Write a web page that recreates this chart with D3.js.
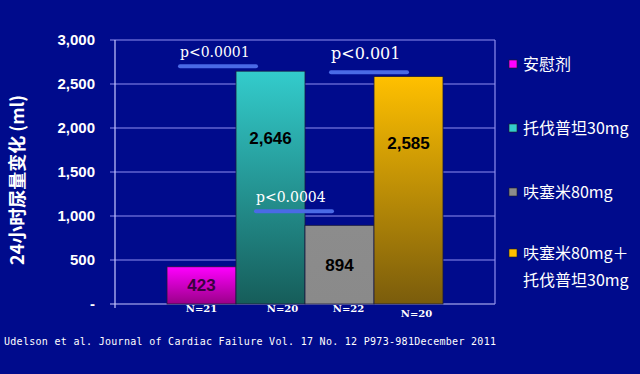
<!DOCTYPE html>
<html>
<head>
<meta charset="utf-8">
<script src="https://cdn.jsdelivr.net/npm/d3@7"></script>
<style>
  html, body { margin: 0; padding: 0; background: #000b8c; }
  svg { display: block; }
</style>
</head>
<body>
<svg id="chart" width="640" height="374"></svg>
<script>
const groups = ['安慰剂', '托伐普坦30mg', '呋塞米80mg', '呋塞米80mg+托伐普坦30mg']
const values = [423, 2646, 894, 2585]
const nLabels = ['N=21', 'N=20', 'N=22', 'N=20']
const yTicks = [0, 500, 1000, 1500, 2000, 2500, 3000]
const pLabels = ['p<0.0001', 'p<0.001', 'p<0.0004']
// bar each p-value starts over, and its height in data units
const pStart = [0, 2, 1]
const pLevels = [2703, 2634, 1055]

const barTop = ['#ff00ff', '#33cccc', '#8c8c8c', '#ffc000']
const barBottom = ['#9a0088', '#165d5a', '#8a8a8a', '#7a5c0c']
const legendLines = [['安慰剂'], ['托伐普坦30mg'], ['呋塞米80mg'], ['呋塞米80mg＋', '托伐普坦30mg']]

const svg = d3.select('#chart')
const plot = { left: 115, right: 495, top: 40, bottom: 304 }

const y = d3.scaleLinear().domain([0, 3000]).range([plot.bottom, plot.top])
const x = d3.scaleBand().domain(d3.range(groups.length)).range([167, 443]).padding(0)

svg.append('rect').attr('width', 640).attr('height', 374).attr('fill', '#000b8c')

let defs = svg.append('defs')
groups.forEach((g, i) => {
  let grad = defs.append('linearGradient')
    .attr('id', 'grad' + i)
    .attr('x1', 0).attr('y1', 0).attr('x2', 0).attr('y2', 1)
  grad.append('stop').attr('offset', '0%').attr('stop-color', barTop[i])
  grad.append('stop').attr('offset', '100%').attr('stop-color', barBottom[i])
})

// grid + frame
svg.append('g')
  .selectAll('line')
  .data(yTicks)
  .enter()
  .append('line')
  .attr('x1', 110).attr('x2', plot.right)
  .attr('y1', d => y(d)).attr('y2', d => y(d))
  .attr('stroke', d => d === 0 ? '#c8c8ff' : '#8f8fef')
  .attr('stroke-width', 1.2)

svg.append('line')
  .attr('x1', plot.left).attr('x2', plot.left)
  .attr('y1', plot.top).attr('y2', plot.bottom + 4)
  .attr('stroke', '#c8c8ff').attr('stroke-width', 1.2)
svg.append('line')
  .attr('x1', plot.right).attr('x2', plot.right)
  .attr('y1', plot.top).attr('y2', plot.bottom)
  .attr('stroke', '#8f8fef').attr('stroke-width', 1.2)

// y axis labels
let yAxis = svg.append('g')
  .attr('transform', `translate(${plot.left - 20},0)`)
  .call(d3.axisLeft(y).tickValues(yTicks).tickSize(0).tickPadding(0)
    .tickFormat(d => d === 0 ? '-' : d3.format(',')(d)))
yAxis.select('.domain').remove()
yAxis.selectAll('text')
  .attr('fill', '#ffffff')
  .attr('font-family', 'Liberation Sans, Arial, sans-serif')
  .attr('font-weight', 'bold')
  .attr('font-size', 15)

svg.append('text')
  .attr('transform', 'translate(24,180) rotate(-90)')
  .attr('text-anchor', 'middle')
  .attr('fill', '#ffffff')
  .attr('font-family', 'Noto Sans CJK SC, sans-serif')
  .attr('font-weight', 'bold')
  .attr('font-size', 18)
  .text('24小时尿量变化 (ml)')

// bars
svg.append('g')
  .selectAll('rect')
  .data(values)
  .enter()
  .append('rect')
  .attr('x', (d, i) => x(i))
  .attr('width', x.bandwidth())
  .attr('y', d => y(d))
  .attr('height', d => y(0) - y(d))
  .attr('fill', (d, i) => `url(#grad${i})`)
  .attr('stroke', '#1a1a40')
  .attr('stroke-width', 0.8)

// value labels
const labelPos = [215, 1883, 442, 1826]
svg.append('g')
  .selectAll('text')
  .data(values)
  .enter()
  .append('text')
  .attr('x', (d, i) => x(i) + x.bandwidth() / 2)
  .attr('y', (d, i) => y(labelPos[i]))
  .attr('dy', '0.35em')
  .attr('text-anchor', 'middle')
  .attr('font-family', 'Liberation Sans, Arial, sans-serif')
  .attr('font-weight', 'bold')
  .attr('font-size', 17)
  .attr('fill', (d, i) => i === 0 ? '#3a0040' : '#000000')
  .text(d => d3.format(',')(d))

// N labels
const nOffset = [0, 12, 9, 8]
svg.append('g')
  .selectAll('text')
  .data(nLabels)
  .enter()
  .append('text')
  .attr('x', (d, i) => x(i) + x.bandwidth() / 2 + nOffset[i])
  .attr('y', (d, i) => i === 3 ? 317 : 312)
  .attr('text-anchor', 'middle')
  .attr('font-family', 'DejaVu Serif, serif')
  .attr('font-weight', 'bold')
  .attr('font-size', 10)
  .attr('fill', '#ffffff')
  .text(d => d)

// p-value annotations
const pOffset = [13, 26, 20]
const pGap = [9, 13, 9]
let pg = svg.append('g')
pLabels.forEach((p, i) => {
  const x0 = x(pStart[i]) + pOffset[i]
  const ly = y(pLevels[i])
  pg.append('line')
    .attr('x1', x0).attr('x2', x0 + 76)
    .attr('y1', ly).attr('y2', ly)
    .attr('stroke', '#4a6ae6')
    .attr('stroke-width', 4)
    .attr('stroke-linecap', 'round')
  pg.append('text')
    .attr('x', x0)
    .attr('y', ly - pGap[i])
    .attr('font-family', 'DejaVu Serif, serif')
    .attr('font-size', i === 1 ? 16 : 14)
    .attr('fill', '#ffffff')
    .text(p)
})

// legend
const legendY = [64, 128, 192, 253]
let legend = svg.append('g')
legendLines.forEach((lines, i) => {
  legend.append('rect')
    .attr('x', 509).attr('y', legendY[i] - 4)
    .attr('width', 8).attr('height', 8)
    .attr('fill', barTop[i])
    .attr('stroke', '#202020').attr('stroke-width', 0.6)
  lines.forEach((t, j) => {
    legend.append('text')
      .attr('x', 523)
      .attr('y', legendY[i] + j * 27)
      .attr('dy', '0.35em')
      .attr('font-family', 'Noto Sans CJK SC, serif')
      .attr('font-size', 16)
      .attr('fill', '#ffffff')
      .text(t)
  })
})

// source
svg.append('text')
  .attr('x', 4)
  .attr('y', 345)
  .attr('font-family', 'DejaVu Sans Mono, monospace')
  .attr('font-size', 10)
  .attr('textLength', 492)
  .attr('fill', '#ffffff')
  .text('Udelson et al. Journal of Cardiac Failure Vol. 17 No. 12 P973-981December 2011')
</script>
</body>
</html>
